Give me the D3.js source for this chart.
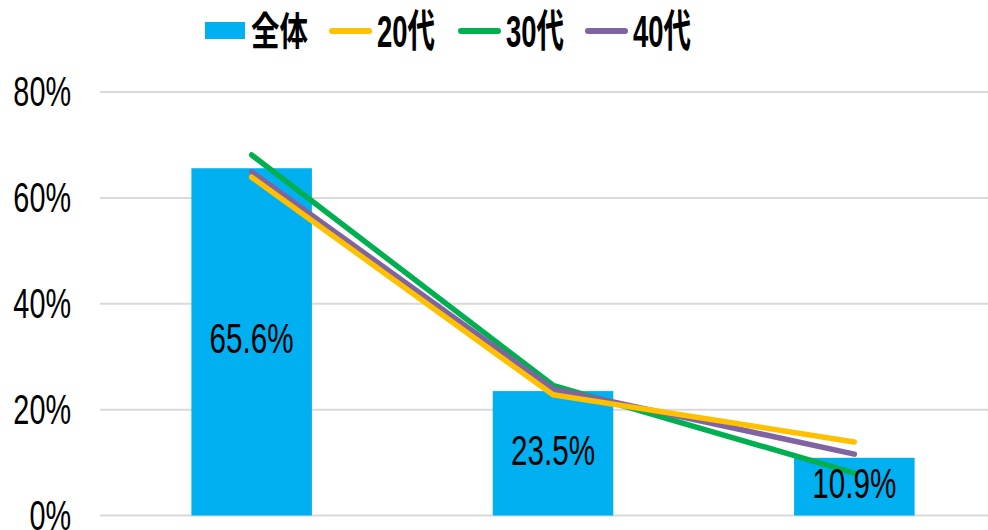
<!DOCTYPE html>
<html>
<head>
<meta charset="utf-8">
<script src="https://cdn.jsdelivr.net/npm/d3@7"></script>
<style>
  body { margin: 0; background: #fff; }
  svg text { font-family: "Liberation Sans", "Noto Sans CJK JP", sans-serif; fill: #000; }
</style>
</head>
<body>
<div id="chart"></div>
<script>
// data
var categories = ["A", "B", "C"];
var totalValues = [65.6, 23.5, 10.9];
var age20 = [63.9, 22.8, 13.9];
var age30 = [68.1, 24.6, 8.0];
var age40 = [64.9, 23.9, 11.6];
var yTicks = [0, 20, 40, 60, 80];

var width = 988, height = 530;
var margin = {top: 92, right: -17, bottom: 14.5, left: 101};
var innerW = width - margin.left - margin.right,
    innerH = height - margin.top - margin.bottom;

var svg = d3.select("#chart")
  .append("svg")
    .attr("width", width)
    .attr("height", height);

var g = svg.append("g")
    .attr("transform", "translate(" + margin.left + "," + margin.top + ")");

var x = d3.scaleBand()
  .domain(categories)
  .range([0, innerW])
  .paddingInner(0.6)
  .paddingOuter(0.3);

var y = d3.scaleLinear()
  .domain([0, 80])
  .range([innerH, 0]);

// condensed text: the original font is narrow, so squeeze horizontally
function narrowText(parent, px, py, str, size, sx, anchor, weight) {
  parent.append("g")
    .attr("transform", "translate(" + px + "," + py + ") scale(" + sx + ",1)")
    .append("text")
      .attr("dy", "0.358em")
      .attr("text-anchor", anchor)
      .attr("font-size", size)
      .attr("font-weight", weight || "normal")
      .text(str);
}

// gridlines
g.selectAll(".grid")
  .data(yTicks)
  .enter()
  .append("line")
    .attr("x1", -1)
    .attr("x2", innerW)
    .attr("y1", function(d) { return y(d); })
    .attr("y2", function(d) { return y(d); })
    .attr("stroke", "#d9d9d9")
    .attr("stroke-width", 2);

// y labels
yTicks.forEach(function(d) {
  narrowText(g, -30, y(d) - 1, d + "%", 43, 0.67, "end");
});

// bars
g.selectAll(".bar")
  .data(totalValues)
  .enter()
  .append("rect")
    .attr("x", function(d, i) { return x(categories[i]); })
    .attr("y", function(d) { return y(d); })
    .attr("width", x.bandwidth())
    .attr("height", function(d) { return y(0) - y(d); })
    .attr("fill", "#00b0f0");

// lines
var series = [
  {name: "20代", values: age20, color: "#ffc000"},
  {name: "30代", values: age30, color: "#00b050"},
  {name: "40代", values: age40, color: "#8064a2"}
];
var line = d3.line()
  .x(function(d, i) { return x(categories[i]) + x.bandwidth() / 2; })
  .y(function(d) { return y(d); });

// draw order: green, purple, yellow on top
[series[1], series[2], series[0]].forEach(function(s) {
  g.append("path")
    .datum(s.values)
    .attr("d", line)
    .attr("fill", "none")
    .attr("stroke", s.color)
    .attr("stroke-width", 5.5)
    .attr("stroke-linecap", "round")
    .attr("stroke-linejoin", "round");
});

// bar labels
totalValues.forEach(function(d, i) {
  var cx = x(categories[i]) + x.bandwidth() / 2;
  var cy = (y(d) + y(0)) / 2 - 4;
  narrowText(g, cx, cy, d.toFixed(1) + "%", 43, 0.69, "middle");
});

// legend
var leg = svg.append("g").attr("transform", "translate(0,30)");
leg.append("rect")
  .attr("x", 205).attr("y", -8)
  .attr("width", 40).attr("height", 17)
  .attr("fill", "#00b0f0");
narrowText(leg, 251, 1, "全体", 39, 0.73, "start", "bold");

var legX = [329, 458, 585];
series.forEach(function(s, i) {
  leg.append("line")
    .attr("x1", legX[i] + 3).attr("x2", legX[i] + 40)
    .attr("y1", 1).attr("y2", 1)
    .attr("stroke", s.color)
    .attr("stroke-width", 6)
    .attr("stroke-linecap", "round");
  narrowText(leg, legX[i] + 48, 1, s.name, 45, 0.61, "start", "bold");
});
</script>
</body>
</html>
